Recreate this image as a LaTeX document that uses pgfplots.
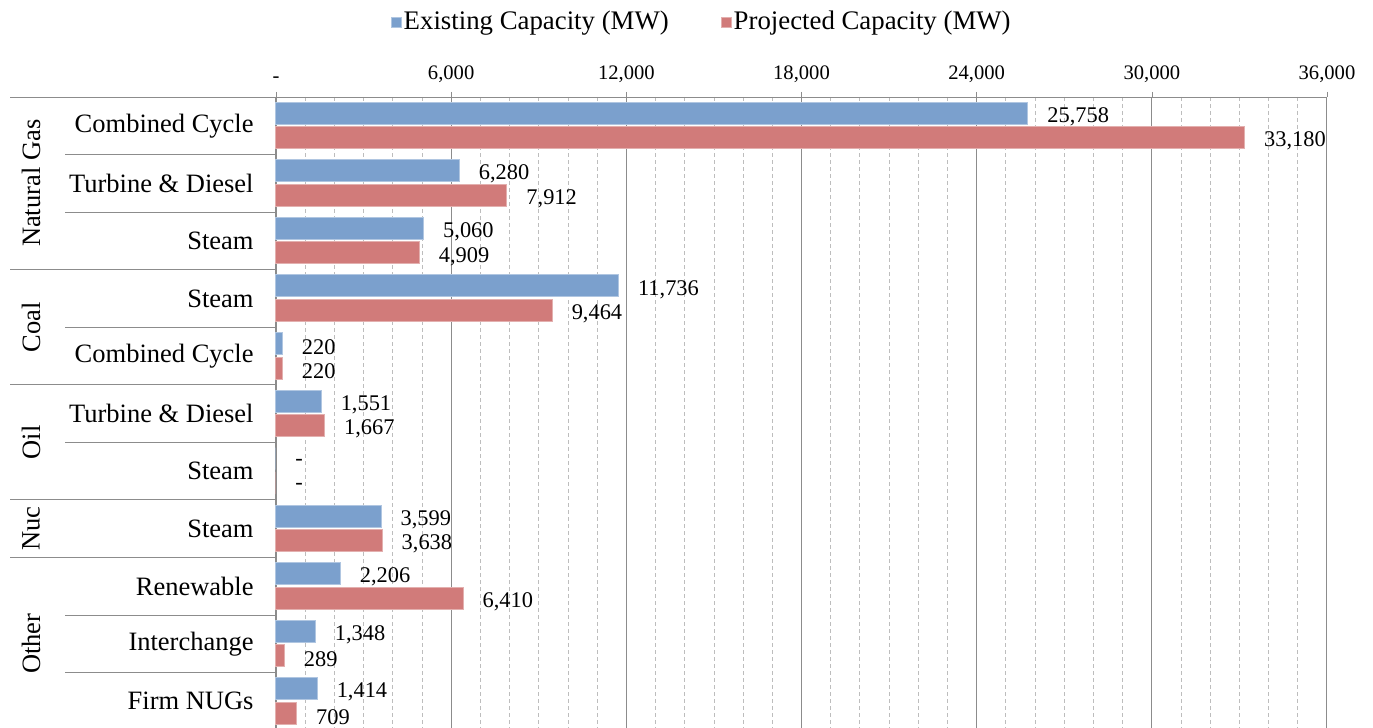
\documentclass[border=0pt]{standalone}
\usepackage{fontspec}
\setmainfont{Liberation Serif}
\usepackage{pgfplots}
\usepackage{pgfplotstable}
\pgfplotsset{compat=1.18}

\definecolor{barblue}{HTML}{7BA0CD}
\definecolor{barred}{HTML}{D17B7A}
\definecolor{linegray}{HTML}{8C8C8C}
\definecolor{minorgray}{HTML}{BDBDBD}

% y = row (0 at top), x = MW, lab = printed label
\pgfplotstableread{
y x lab
0 25758 25,758
1 6280 6,280
2 5060 5,060
3 11736 11,736
4 220 220
5 1551 1,551
6 0 -
7 3599 3,599
8 2206 2,206
9 1348 1,348
10 1414 1,414
}\existing

\pgfplotstableread{
y x lab
0 33180 33,180
1 7912 7,912
2 4909 4,909
3 9464 9,464
4 220 220
5 1667 1,667
6 0 -
7 3638 3,638
8 6410 6,410
9 289 289
10 709 709
}\projected

\begin{document}
\begin{tikzpicture}
\begin{axis}[
    name=ax,
    scale only axis,
    width=525.5pt, height=316.5pt,
    xbar, bar width=0.382,
    xmin=0, xmax=36000,
    ymin=-0.5, ymax=10.5, y dir=reverse,
    axis x line*=top, axis y line*=left,
    axis line style={-, draw=linegray},
    clip=false,
    scaled x ticks=false,
    xtick={0,6000,...,36000},
    xticklabels={-,6{,}000,12{,}000,18{,}000,24{,}000,30{,}000,36{,}000},
    minor x tick num=5,
    xmajorgrids, xminorgrids,
    major grid style={solid, draw=linegray, line width=0.5pt},
    minor grid style={dash pattern=on 2pt off 1.5pt, draw=minorgray, line width=0.4pt},
    major tick length=2.5pt, minor tick length=0pt,
    tick align=outside,
    x tick style={draw=linegray},
    y tick style={draw=none},
    xticklabel style={font=\fontsize{10.3}{12}\selectfont, inner sep=0pt, anchor=south, yshift=4.5pt},
    ytick={0,...,10},
    yticklabels={Combined Cycle, Turbine \& Diesel, Steam, Steam, Combined Cycle, Turbine \& Diesel, Steam, Steam, Renewable, Interchange, Firm NUGs},
    yticklabel style={font=\fontsize{13.25}{15}\selectfont, inner sep=0pt, anchor=east, xshift=-8.5pt},
    point meta=explicit symbolic,
    nodes near coords,
    every node near coord/.append style={font=\fontsize{11.2}{13}\selectfont, anchor=west, inner sep=0pt, xshift=9.5pt, yshift=-1.7pt, text=black},
    legend columns=2,
    legend style={at={(0.405,1)}, anchor=center, yshift=37.5pt, draw=none, fill=none,
        font=\fontsize{13.4}{15}\selectfont,
        nodes={inner sep=1pt},
        /tikz/every odd column/.style={column sep=0pt},
        /tikz/every even column/.style={column sep=25pt}},
    legend image code/.code={\fill[#1] (0pt,-2.5pt) rectangle (5pt,2.5pt);},
]
\addplot[fill=barblue, draw=barblue!60!white, line width=0.5pt, bar shift=-0.217]
    table[x=x, y=y, meta=lab] {\existing};
\addlegendentry{Existing Capacity (MW)}
\addplot[fill=barred, draw=barred!60!white, line width=0.5pt, bar shift=0.21]
    table[x=x, y=y, meta=lab] {\projected};
\addlegendentry{Projected Capacity (MW)}

\coordinate (TL) at (axis cs:0,-0.5);
% group separators
\draw[linegray] (axis cs:0,-0.5) -- ++(-133pt,0pt);
\draw[linegray] (axis cs:0,2.5) -- ++(-133pt,0pt);
\draw[linegray] (axis cs:0,4.5) -- ++(-133pt,0pt);
\draw[linegray] (axis cs:0,6.5) -- ++(-133pt,0pt);
\draw[linegray] (axis cs:0,7.5) -- ++(-133pt,0pt);
% sub-category separators
\draw[linegray] (axis cs:0,0.5) -- ++(-105.5pt,0pt);
\draw[linegray] (axis cs:0,1.5) -- ++(-105.5pt,0pt);
\draw[linegray] (axis cs:0,3.5) -- ++(-105.5pt,0pt);
\draw[linegray] (axis cs:0,5.5) -- ++(-105.5pt,0pt);
\draw[linegray] (axis cs:0,8.5) -- ++(-105.5pt,0pt);
\draw[linegray] (axis cs:0,9.5) -- ++(-105.5pt,0pt);
% group names
\node[rotate=90, font=\fontsize{13.25}{15}\selectfont] at ([xshift=-122.5pt]axis cs:0,1) {Natural Gas};
\node[rotate=90, font=\fontsize{13.25}{15}\selectfont] at ([xshift=-122.5pt]axis cs:0,3.5) {Coal};
\node[rotate=90, font=\fontsize{13.25}{15}\selectfont] at ([xshift=-122.5pt]axis cs:0,5.5) {Oil};
\node[rotate=90, font=\fontsize{13.25}{15}\selectfont] at ([xshift=-122.5pt]axis cs:0,7) {Nuc};
\node[rotate=90, font=\fontsize{13.25}{15}\selectfont] at ([xshift=-122.5pt]axis cs:0,9) {Other};
\end{axis}
\pgfresetboundingbox
\path[use as bounding box] ([shift={(-138pt,48.5pt)}]TL) rectangle ([shift={(548.5pt,-315.5pt)}]TL);
\end{tikzpicture}
\end{document}
